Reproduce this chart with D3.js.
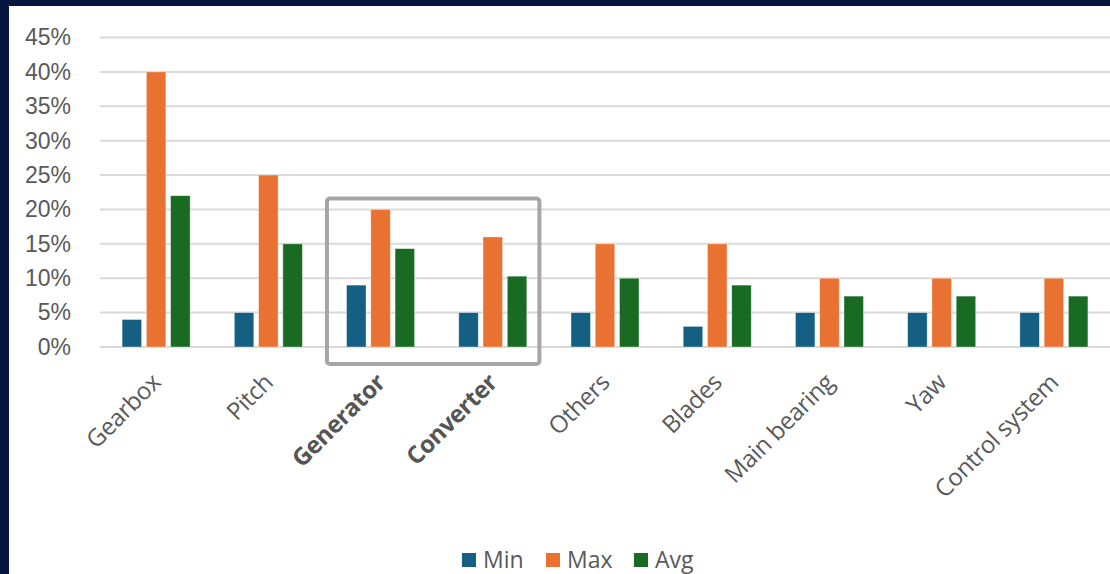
<!DOCTYPE html>
<html>
<head>
<meta charset="utf-8">
<script src="https://cdn.jsdelivr.net/npm/d3@7"></script>
<style>
  html, body { margin: 0; padding: 0; background: #061641; }
  svg { display: block; }
</style>
</head>
<body>
<svg id="chart" width="1110" height="574"></svg>
<script>
// ---- data ----
const categories = ["Gearbox", "Pitch", "Generator", "Converter", "Others", "Blades", "Main bearing", "Yaw", "Control system"];
const seriesNames = ["Min", "Max", "Avg"];
const minValues = [0.04, 0.05, 0.09, 0.05, 0.05, 0.03, 0.05, 0.05, 0.05];
const maxValues = [0.40, 0.25, 0.20, 0.16, 0.15, 0.15, 0.10, 0.10, 0.10];
const avgValues = [0.22, 0.15, 0.143, 0.103, 0.10, 0.09, 0.074, 0.074, 0.074];
const yTicks = [0, 0.05, 0.10, 0.15, 0.20, 0.25, 0.30, 0.35, 0.40, 0.45];
const highlighted = ["Generator", "Converter"];
const colors = ["#156082", "#E97132", "#196B24"];

const seriesValues = [minValues, maxValues, avgValues];
const rows = categories.map((c, i) => ({
  category: c,
  values: seriesNames.map((s, j) => ({ series: s, value: seriesValues[j][i] }))
}));

const svg = d3.select("#chart");
const W = 1110, H = 574;

// background frame
svg.append("rect").attr("x", 0).attr("y", 0).attr("width", W).attr("height", H).attr("fill", "#061641");
svg.append("rect").attr("x", 9).attr("y", 6).attr("width", W - 9).attr("height", H - 6).attr("fill", "#ffffff");

const plot = { left: 100, right: 1110, top: 37.5, bottom: 347 };

const x0 = d3.scaleBand().domain(categories).range([plot.left, plot.right]).paddingInner(0).paddingOuter(0);
const x1 = d3.scaleBand().domain(seriesNames).range([0, x0.bandwidth()]).paddingInner(0.196).paddingOuter(0.91);
const y = d3.scaleLinear().domain([0, 0.45]).range([plot.bottom, plot.top]);
const color = d3.scaleOrdinal().domain(seriesNames).range(colors);

// gridlines
svg.append("g").selectAll("line").data(yTicks).join("line")
  .attr("x1", plot.left).attr("x2", plot.right)
  .attr("y1", d => y(d)).attr("y2", d => y(d))
  .attr("stroke", "#d9d9d9").attr("stroke-width", 2);

// y axis
const yAxis = svg.append("g").attr("transform", `translate(${plot.left},0)`)
  .call(d3.axisLeft(y).tickValues(yTicks).tickFormat(d3.format(".0%")).tickSize(0).tickPadding(29));
yAxis.select(".domain").remove();
yAxis.selectAll("text")
  .attr("font-family", "'Liberation Sans', Arial, sans-serif")
  .attr("font-size", 23).attr("fill", "#595959");

// bars
const groups = svg.append("g").selectAll("g").data(rows).join("g")
  .attr("transform", d => `translate(${x0(d.category)},0)`);
groups.selectAll("rect").data(d => d.values).join("rect")
  .attr("x", d => x1(d.series))
  .attr("width", x1.bandwidth())
  .attr("y", d => y(d.value))
  .attr("height", d => y(0) - y(d.value))
  .attr("fill", d => color(d.series))
  .attr("stroke", "#ffffff").attr("stroke-opacity", 0.5).attr("stroke-width", 0.75);

// x axis labels
const xAxis = svg.append("g").attr("transform", `translate(0,${plot.bottom})`)
  .call(d3.axisBottom(x0).tickSize(0));
xAxis.select(".domain").remove();
xAxis.selectAll("text")
  .attr("x", null).attr("y", null).attr("dy", null)
  .attr("text-anchor", "end")
  .attr("transform", "translate(6,37) rotate(-45)")
  .attr("font-family", "'Open Sans', sans-serif")
  .attr("font-size", 24)
  .attr("letter-spacing", -0.4)
  .attr("font-weight", d => highlighted.includes(d) ? "bold" : "normal")
  .attr("fill", d => highlighted.includes(d) ? "#555555" : "#595959");

// highlight box around Generator & Converter
const hx0 = x0(highlighted[0]) + 2.5;
const hx1 = x0(highlighted[highlighted.length - 1]) + x0.bandwidth() - 9.5;
svg.append("rect")
  .attr("x", hx0).attr("y", y(0.20) - 11)
  .attr("width", hx1 - hx0).attr("height", (y(0) + 17) - (y(0.20) - 11))
  .attr("rx", 3).attr("ry", 3)
  .attr("fill", "none").attr("stroke", "#a6a6a6").attr("stroke-width", 4);

// legend
const legendItems = [{ name: "Min", x: 462 }, { name: "Max", x: 546 }, { name: "Avg", x: 634 }];
const legend = svg.append("g").selectAll("g").data(seriesNames).join("g")
  .attr("transform", (d, i) => `translate(${legendItems[i].x},553)`);
legend.append("rect").attr("width", 14).attr("height", 14).attr("fill", d => color(d));
legend.append("text").attr("x", 21).attr("y", 14.5)
  .attr("font-family", "'Open Sans', sans-serif").attr("font-size", 23)
  .attr("fill", "#595959").text(d => d);
</script>
</body>
</html>
